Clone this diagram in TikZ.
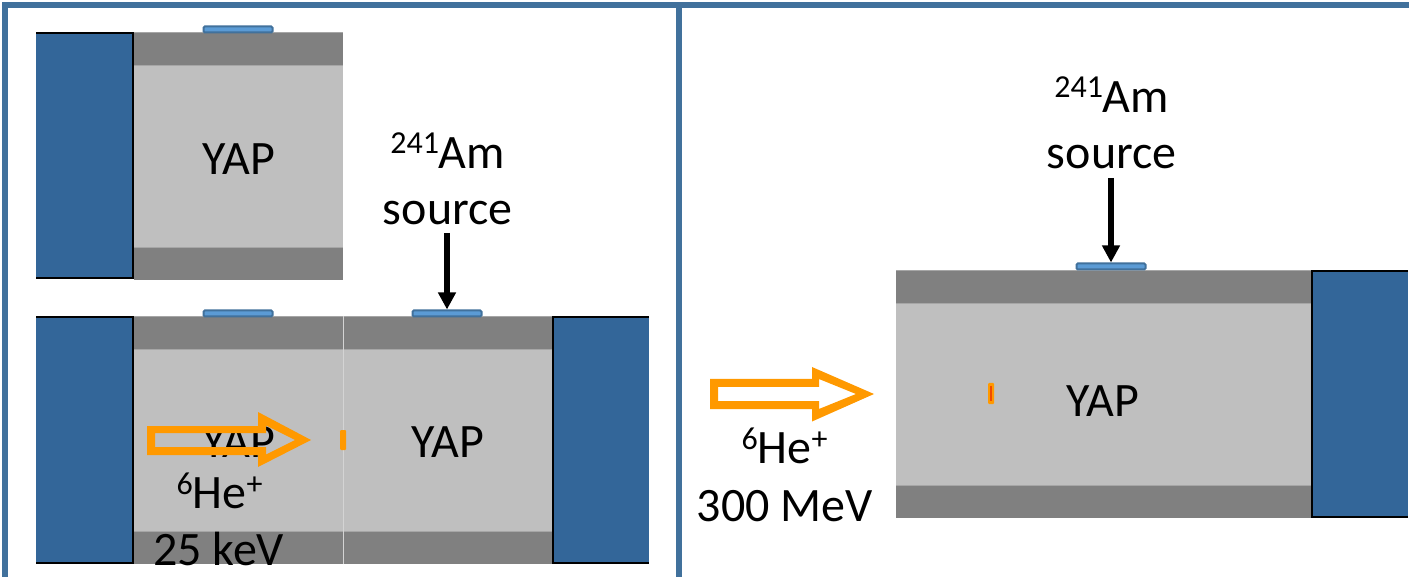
\documentclass[tikz,border=0pt]{standalone}
\usepackage{fontspec}
\setmainfont{Carlito}
\usetikzlibrary{arrows.meta}
\definecolor{framecol}{HTML}{41719C}
\definecolor{blockcol}{HTML}{336699}
\definecolor{darkband}{HTML}{808080}
\definecolor{lightband}{HTML}{BFBFBF}
\definecolor{edgeband}{HTML}{A6A6A6}
\definecolor{srcfill}{HTML}{5B9BD5}
\definecolor{orangecol}{HTML}{FF9900}
\definecolor{redmark}{HTML}{F04A00}
\definecolor{seamcol}{HTML}{D4D4D4}
\newcommand{\bigtxt}{\fontsize{48}{48}\selectfont}
\newcommand{\supr}[1]{\raisebox{14.5pt}{\fontsize{32}{32}\selectfont #1}}
\newcommand{\crystal}[3]{% x1, x2, y top
  \fill[darkband] (#1,#3) rectangle (#2,#3+248);
  \fill[lightband] (#1,#3+33) rectangle (#2,#3+215);
  \draw[edgeband,line width=0.7pt] (#1,#3+0.3) -- (#2,#3+0.3) (#1,#3+33) -- (#2,#3+33) (#1,#3+215) -- (#2,#3+215);
}
\tikzset{
  lbl/.style={anchor=base,inner sep=0pt,font=\bigtxt,text=black,yshift=-1.5pt,xshift=0.7pt},
  srcbar/.style={draw=framecol,fill=srcfill,line width=2pt,rounded corners=1.2pt,minimum width=69pt,minimum height=6pt,inner sep=0pt},
  blockfill/.style={fill=blockcol},
  blockedge/.style={draw=black,line width=2.7pt},
  pointer/.style={draw=black,line width=5.6pt,-{Triangle[length=17pt,width=17pt]}},
  hitmark/.style={fill=orangecol,rounded corners=1pt},
}
\begin{document}
\begin{tikzpicture}[x=1pt,y=-1pt]
\useasboundingbox (0,0) rectangle (1409,577);
\fill[white] (0,0) rectangle (1409,577);
% frame
\fill[framecol] (2,2.5) rectangle (1409,8);
\fill[framecol] (2,2.5) rectangle (7.5,577);
\fill[framecol] (676,2.5) rectangle (681.5,577);
% top-left assembly
\crystal{134}{343}{32}
\fill[blockfill] (36,32) rectangle (134,279);
\draw[blockedge] (36,33) -- (133,33) -- (133,278) -- (36,278);
\node[srcbar] (srcA) at (238,29.5) {};
\node[lbl] (yapA) at (238,173) {YAP};
% lower-left assembly
\crystal{134}{343}{316}
\crystal{343}{552}{316}
\draw[line width=0.6pt,color=seamcol] (343,316) -- (343,564);
\fill[blockfill] (36,316) rectangle (134,564);
\draw[blockedge] (36,317) -- (133,317) -- (133,563) -- (36,563);
\fill[blockfill] (552,316) rectangle (649,564);
\draw[blockedge] (649,317) -- (553,317) -- (553,563) -- (649,563);
\node[srcbar] (srcB) at (238,313.5) {};
\node[srcbar] (srcC) at (447,313.5) {};
\node[lbl] (yapB) at (238,456) {YAP};
\node[lbl] (yapC) at (447,456) {YAP};
% left labels
\node[lbl] (amA) at (447,167) {\supr{241}Am};
\node[lbl] (soA) at (447,223) {source};
\coordinate (amAfoot) at (447,233);
\draw[pointer] (amAfoot) -- (srcC.north);
% left beam
\fill[orangecol,even odd rule]
  (147,426) -- (258,426) -- (258,412) -- (311,440) -- (258,467) -- (258,455) -- (147,455) -- cycle
  (155,433) -- (266,433) -- (266,425.5) -- (295,440) -- (266,454.5) -- (266,447) -- (155,447) -- cycle;
\fill[hitmark] (340,430) rectangle (346,450);
\node[lbl] (heA) at (219,507) {\supr{6}He\supr{+}};
\node[lbl] (keV) at (218,564) {25 keV};
% right assembly
\crystal{896}{1311}{270}
\fill[blockfill] (1311,270) rectangle (1408,518);
\draw[blockedge] (1408,271) -- (1312,271) -- (1312,517) -- (1408,517);
\node[srcbar] (srcD) at (1111,266.5) {};
\node[lbl] (yapD) at (1102,415) {YAP};
\node[lbl] (amD) at (1111,111) {\supr{241}Am};
\node[lbl] (soD) at (1111,167) {source};
\coordinate (amDfoot) at (1111,178);
\draw[pointer] (amDfoot) -- (srcD.north);
% right beam
\fill[orangecol,even odd rule]
  (710,379) -- (812,379) -- (812,367) -- (874,394) -- (812,421.5) -- (812,409) -- (710,409) -- cycle
  (718,387) -- (819,387) -- (819,379) -- (856,394) -- (819,409) -- (819,401) -- (718,401) -- cycle;
\fill[hitmark] (988,383) rectangle (994,404);
\draw[redmark,line width=1.2pt] (991,386) -- (991,401);
\node[lbl] (heD) at (784,462) {\supr{6}He\supr{+}};
\node[lbl] (mev) at (784,520) {300 MeV};
\end{tikzpicture}
\end{document}
